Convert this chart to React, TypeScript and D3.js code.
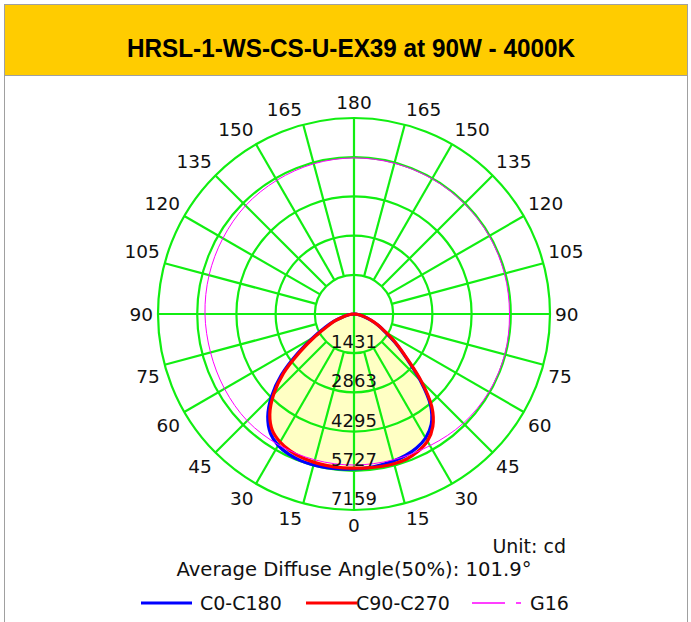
import React from 'react'
import * as d3 from 'd3'

// chart data
const title = 'HRSL-1-WS-CS-U-EX39 at 90W - 4000K'
const gammas = [0, 5, 10, 15, 20, 25, 30, 35, 40, 45, 50, 55, 60, 65, 70, 75, 80, 85, 90]
const c0 = [5660, 5640, 5600, 5560, 5500, 5400, 5230, 4920, 4350, 3420, 2480, 1850, 1320, 960, 640, 390, 210, 70, 0]
const c180 = [5660, 5680, 5700, 5710, 5700, 5650, 5540, 5320, 4900, 4260, 3460, 2520, 1740, 1170, 790, 450, 240, 90, 0]
const c90 = [5626, 5640, 5655, 5660, 5635, 5535, 5365, 5020, 4420, 3480, 2530, 1890, 1350, 985, 660, 400, 220, 75, 0]
const c270 = [5626, 5630, 5625, 5610, 5580, 5515, 5400, 5195, 4785, 4150, 3360, 2410, 1645, 1095, 745, 420, 220, 80, 0]
const g16Angles = [0, 15, 30, 45, 60, 75, 90, 105, 120, 135, 150, 165, 180]
const g16Right = [5516, 5516, 5553, 5644, 5690, 5700, 5680, 5690, 5700, 5700, 5700, 5700, 5700]
const g16Left = [5516, 5516, 5516, 5516, 5461, 5425, 5443, 5480, 5530, 5600, 5640, 5680, 5700]
const ringValues = [1431, 2863, 4295, 5727, 7159]
const angleTicks = [0, 15, 30, 45, 60, 75, 90, 105, 120, 135, 150, 165, 180]
const unitText = 'Unit: cd'
const diffuseText = 'Average Diffuse Angle(50%): 101.9°'
const legendNames = ['C0-C180', 'C90-C270', 'G16']
const legendColors = ['#0000ff', '#ff0000', '#ff00ff']

const W = 691
const H = 622
const cx = 354
const cy = 314
const R = 196
const font = "'DejaVu Sans', Verdana, sans-serif"
const green = '#11ee11'
const labelSize = 18.5

const rad = (deg: number) => (deg * Math.PI) / 180
const rScale = d3.scaleLinear().domain([0, 7159]).range([0, R])

// gamma measured from straight down; right side a = 180 - g, left side a = 180 + g
type P = { a: number; v: number }
const planePoints = (left: number[], right: number[]): P[] => {
  const pts: P[] = []
  for (let i = gammas.length - 1; i >= 0; i--) pts.push({ a: rad(180 + gammas[i]), v: left[i] })
  for (let i = 1; i < gammas.length; i++) pts.push({ a: rad(180 - gammas[i]), v: right[i] })
  return pts
}

const radial = d3
  .lineRadial<P>()
  .angle(d => d.a)
  .radius(d => rScale(d.v))
  .curve(d3.curveCatmullRom.alpha(0.5))

const g16Pts: P[] = []
for (let i = g16Angles.length - 1; i >= 0; i--) g16Pts.push({ a: rad(180 - g16Angles[i]), v: g16Right[i] })
for (let i = 1; i < g16Angles.length - 1; i++) g16Pts.push({ a: rad(180 + g16Angles[i]), v: g16Left[i] })
const g16Line = d3
  .lineRadial<P>()
  .angle(d => d.a)
  .radius(d => rScale(d.v))
  .curve(d3.curveCatmullRomClosed.alpha(0.5))

const polar = (deg: number, r: number) => [cx + r * Math.sin(rad(deg)), cy - r * Math.cos(rad(deg))]

// the label box sits with its inner corner on a circle just outside the grid
const labelPos = (t: number, deg: number) => {
  const [px, py] = polar(deg, R + 5)
  const s = Math.sin(rad(deg))
  const c = Math.cos(rad(deg))
  const hw = (String(t).length * 0.636 * labelSize) / 2
  const hh = 10.5
  const sx = Math.abs(s) < 1e-6 ? 0 : Math.sign(s)
  const sy = Math.abs(c) < 1e-6 ? 0 : -Math.sign(c)
  return [px + sx * hw, py + sy * hh]
}

export default function App() {
  const blue = radial(planePoints(c180, c0)) || ''
  const red = radial(planePoints(c270, c90)) || ''
  const inner = rScale(ringValues[0])

  const spokes: number[] = []
  angleTicks.forEach(t => {
    if (t % 90 !== 0) {
      spokes.push(180 - t)
      spokes.push(180 + t)
    }
  })

  const labels: { t: number; a: number }[] = []
  angleTicks.forEach(t => {
    labels.push({ t, a: 180 - t })
    if (t !== 0 && t !== 180) labels.push({ t, a: 180 + t })
  })

  return (
    <svg width={W} height={H} style={{ position: 'absolute', left: 0, top: 0, background: '#fff' }}>
      <rect x={4.5} y={4.5} width={683} height={H} fill="#fff" stroke="#a0a0a0" />
      <rect x={4.5} y={4.5} width={683} height={71} fill="#ffcc00" stroke="#a0a0a0" />
      <text
        x={351}
        y={57}
        textAnchor="middle"
        fontFamily="'Liberation Sans Narrow', 'Liberation Sans', Arial, sans-serif"
        fontWeight="bold"
        fontSize={25}
        textLength={448}
        lengthAdjust="spacingAndGlyphs"
        fill="#000"
      >
        {title}
      </text>

      <g transform={`translate(${cx},${cy})`}>
        <path d={blue + 'Z'} fill="#ffffc4" />
        <path d={red + 'Z'} fill="#ffffc4" />
      </g>

      <g stroke={green} strokeWidth={2.2} fill="none">
        {ringValues.map(v => (
          <circle key={v} cx={cx} cy={cy} r={rScale(v)} />
        ))}
        <line x1={cx - R} y1={cy} x2={cx + R} y2={cy} />
        <line x1={cx} y1={cy - R} x2={cx} y2={cy + R} />
        {spokes.map(a => {
          const [x1, y1] = polar(a, inner)
          const [x2, y2] = polar(a, R)
          return <line key={a} x1={x1} y1={y1} x2={x2} y2={y2} />
        })}
      </g>

      <g transform={`translate(${cx},${cy})`} fill="none">
        <path d={blue} stroke="#0000ff" strokeWidth={3.2} />
        <path d={red} stroke="#ff0000" strokeWidth={3.2} />
        <path d={g16Line(g16Pts) || ''} stroke="#ff00ff" strokeWidth={1} />
      </g>

      <g fontFamily={font} fontSize={18} fill="#111" textAnchor="middle">
        {ringValues.map(v => (
          <text key={v} x={cx} y={cy + rScale(v) - 5}>
            {v}
          </text>
        ))}
      </g>

      <g fontFamily={font} fontSize={labelSize} fill="#111" textAnchor="middle">
        {labels.map(l => {
          const [x, y] = labelPos(l.t, l.a)
          return (
            <text key={l.a} x={x} y={y} dy="0.36em">
              {l.t}
            </text>
          )
        })}
      </g>

      <g fontFamily={font} fill="#111">
        <text x={566} y={553} textAnchor="end" fontSize={19}>
          {unitText}
        </text>
        <text x={354} y={576} textAnchor="middle" fontSize={19.6}>
          {diffuseText}
        </text>
      </g>

      <g fontFamily={font} fontSize={19} fill="#111">
        <line x1={141} y1={603} x2={192} y2={603} stroke={legendColors[0]} strokeWidth={3} />
        <text x={200} y={610}>{legendNames[0]}</text>
        <line x1={306} y1={603} x2={357} y2={603} stroke={legendColors[1]} strokeWidth={3} />
        <text x={356} y={610}>{legendNames[1]}</text>
        <line
          x1={472}
          y1={603}
          x2={521}
          y2={603}
          stroke={legendColors[2]}
          strokeWidth={1.5}
          strokeDasharray="33 11 5 100"
        />
        <text x={530} y={610}>{legendNames[2]}</text>
      </g>
    </svg>
  )
}
